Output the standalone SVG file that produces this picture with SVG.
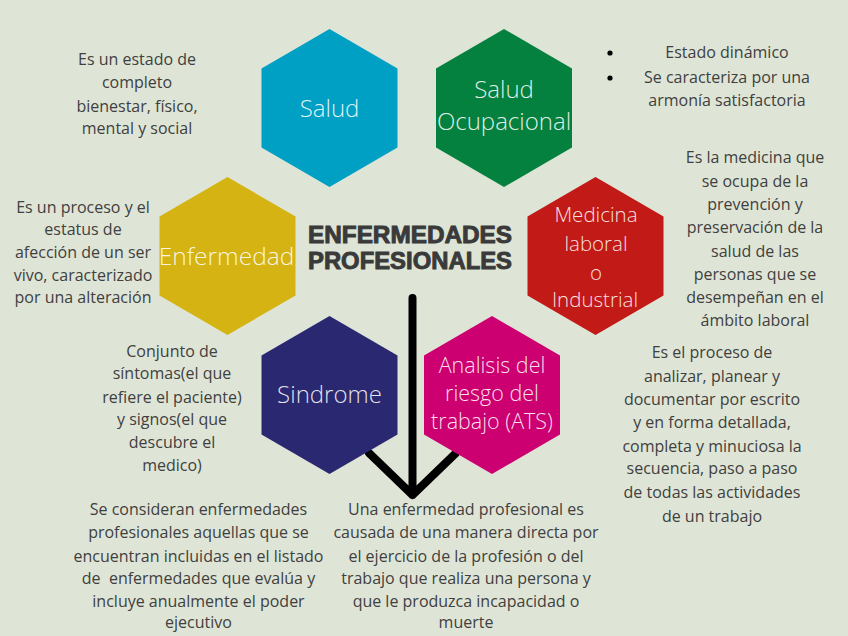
<svg xmlns="http://www.w3.org/2000/svg" width="848" height="636" viewBox="0 0 848 636">
<style>
.hex-label{font-family:"Open Sans","Liberation Sans",sans-serif;font-weight:300;fill:#ffffff;fill-opacity:0.88;text-anchor:middle}
.body{font-family:"Open Sans","Liberation Sans",sans-serif;font-size:16px;fill:#404040;text-anchor:middle}
.title{font-family:"Liberation Sans",Arial,sans-serif;font-weight:bold;font-size:23px;fill:#3a3a3a;stroke:#3a3a3a;stroke-width:0.9}
.conn{fill:none;stroke:#000;stroke-width:8;stroke-linecap:round;stroke-linejoin:round}
</style>
<rect width="848" height="636" fill="#dfe5d6"/>

<g id="title">
<text class="title" x="308" y="243" textLength="204" lengthAdjust="spacingAndGlyphs">ENFERMEDADES</text>
<text class="title" x="308" y="269" textLength="204" lengthAdjust="spacingAndGlyphs">PROFESIONALES</text>
</g>

<g id="connectors">
<path class="conn" d="M412.5 298 L412.5 495 M369 453 L412.5 495 L456 453"/>
</g>

<g id="salud">
<polygon fill="#00a0c4" points="329.5,29 397.5,68.5 397.5,147.5 329.5,187 261.5,147.5 261.5,68.5"/>
<text class="hex-label" x="329.5" y="117" font-size="24">Salud</text>
</g>

<g id="salud-ocupacional">
<polygon fill="#04813f" points="504,29 572,68.5 572,147.5 504,187 436,147.5 436,68.5"/>
<text class="hex-label" x="504" y="98" font-size="24">Salud</text>
<text class="hex-label" x="504" y="130" font-size="24">Ocupacional</text>
</g>

<g id="enfermedad">
<polygon fill="#d4b312" points="227.5,177 295.5,216.5 295.5,295.5 227.5,335 159.5,295.5 159.5,216.5"/>
<text class="hex-label" x="226.5" y="265" font-size="24.5">Enfermedad</text>
</g>

<g id="medicina">
<polygon fill="#c21a17" points="595.5,177 663.5,216.5 663.5,295.5 595.5,335 527.5,295.5 527.5,216.5"/>
<text class="hex-label" x="596" y="222" font-size="20.5">Medicina</text>
<text class="hex-label" x="596" y="251" font-size="20.5">laboral</text>
<text class="hex-label" x="596" y="280" font-size="20.5">o</text>
<text class="hex-label" x="595" y="307" font-size="20.5">Industrial</text>
</g>

<g id="sindrome">
<polygon fill="#2a2870" points="329.5,316 397.5,355.5 397.5,434.5 329.5,474 261.5,434.5 261.5,355.5"/>
<text class="hex-label" x="329.5" y="403" font-size="24">Sindrome</text>
</g>

<g id="analisis">
<polygon fill="#cc0070" points="492,316 560,355.5 560,434.5 492,474 424,434.5 424,355.5"/>
<text class="hex-label" x="492" y="373" font-size="21.5">Analisis del</text>
<text class="hex-label" x="492" y="401" font-size="21.5">riesgo del</text>
<text class="hex-label" x="492" y="429" font-size="21.5">trabajo (ATS)</text>
</g>

<g id="desc-salud" class="body">
<text x="137" y="65">Es un estado de</text>
<text x="137" y="88">completo</text>
<text x="137" y="112">bienestar, físico,</text>
<text x="137" y="134">mental y social</text>
</g>

<g id="desc-salud-ocupacional" class="body">
<circle cx="610" cy="53" r="2.6" fill="#000"/>
<circle cx="610" cy="78" r="2.6" fill="#000"/>
<text x="727" y="58">Estado dinámico</text>
<text x="727" y="83">Se caracteriza por una</text>
<text x="727" y="106">armonía satisfactoria</text>
</g>

<g id="desc-enfermedad" class="body">
<text x="83" y="213">Es un proceso y el</text>
<text x="83" y="235">estatus de</text>
<text x="83" y="258">afección de un ser</text>
<text x="83" y="281">vivo, caracterizado</text>
<text x="83" y="303">por una alteración</text>
</g>

<g id="desc-medicina" class="body">
<text x="755" y="163">Es la medicina que</text>
<text x="755" y="187">se ocupa de la</text>
<text x="755" y="210">prevención y</text>
<text x="755" y="233">preservación de la</text>
<text x="755" y="257">salud de las</text>
<text x="755" y="280">personas que se</text>
<text x="755" y="303">desempeñan en el</text>
<text x="755" y="326">ámbito laboral</text>
</g>

<g id="desc-sindrome" class="body">
<text x="172" y="357">Conjunto de</text>
<text x="172" y="379">síntomas(el que</text>
<text x="172" y="403">refiere el paciente)</text>
<text x="172" y="425">y signos(el que</text>
<text x="172" y="448">descubre el</text>
<text x="172" y="471">medico)</text>
</g>

<g id="desc-analisis" class="body">
<text x="712" y="358">Es el proceso de</text>
<text x="712" y="382">analizar, planear y</text>
<text x="712" y="405">documentar por escrito</text>
<text x="712" y="428">y en forma detallada,</text>
<text x="712" y="452">completa y minuciosa la</text>
<text x="712" y="474">secuencia, paso a paso</text>
<text x="712" y="498">de todas las actividades</text>
<text x="712" y="522">de un trabajo</text>
</g>

<g id="desc-listado" class="body">
<text x="198.5" y="515">Se consideran enfermedades</text>
<text x="198.5" y="538">profesionales aquellas que se</text>
<text x="198.5" y="562">encuentran incluidas en el listado</text>
<text x="198.5" y="584" xml:space="preserve">de  enfermedades que evalúa y</text>
<text x="198.5" y="607">incluye anualmente el poder</text>
<text x="198.5" y="628">ejecutivo</text>
</g>

<g id="desc-definicion" class="body">
<text x="466" y="515">Una enfermedad profesional es</text>
<text x="466" y="538">causada de una manera directa por</text>
<text x="466" y="562">el ejercicio de la profesión o del</text>
<text x="466" y="584">trabajo que realiza una persona y</text>
<text x="466" y="607">que le produzca incapacidad o</text>
<text x="466" y="628">muerte</text>
</g>
</svg>
